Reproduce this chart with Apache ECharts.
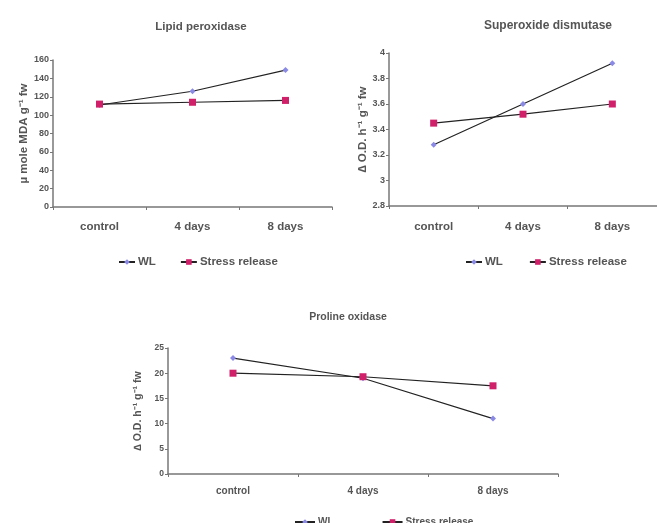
<!DOCTYPE html>
<html><head><meta charset="utf-8">
<script src="https://cdn.jsdelivr.net/npm/echarts@6/dist/echarts.min.js"></script>
<style>html,body{margin:0;padding:0;background:#fff}#c{width:657px;height:523px}</style>
</head><body><div id="c"></div>
<script>
const categories = ['control', '4 days', '8 days'];
const titles = ['Lipid peroxidase', 'Superoxide dismutase', 'Proline oxidase'];
const yNames = ['\u00b5 mole MDA g\u207b\u00b9 fw', '\u2206 O.D. h\u207b\u00b9 g\u207b\u00b9 fw', '\u2206 O.D. h\u207b\u00b9 g\u207b\u00b9 fw'];
const seriesNames = ['WL', 'Stress release'];
const lipidWL = [111, 126, 149];
const lipidStress = [112, 114, 116];
const sodWL = [3.28, 3.6, 3.92];
const sodStress = [3.45, 3.52, 3.6];
const proWL = [23, 19, 11];
const proStress = [20, 19.3, 17.5];
const yMin = [0, 2.8, 0];
const yMax = [160, 4, 25];
const yInterval = [20, 0.2, 5];

const font = 'Liberation Sans, Arial, sans-serif';
const txt = '#555';
const axisCol = '#777';
const grids = [
  {left: 53, top: 60, width: 279, height: 147},
  {left: 389, top: 53, width: 282, height: 153},
  {left: 168, top: 348, width: 390, height: 126}
];
const yNameGap = [22, 20, 24];
const yNameFs = [11.5, 11.5, 10.5];
const labelFs = [11.5, 11.5, 10];
const labelMargin = [14, 15, 12];
const tickFs = [9, 9, 8.5];

const chart = echarts.init(document.getElementById('c'));
const xAxis = grids.map((g, i) => ({
  type: 'category', gridIndex: i, data: categories, boundaryGap: true,
  axisLine: {lineStyle: {color: axisCol, width: 1.5}},
  axisTick: {show: true, interval: 0, length: 3, lineStyle: {color: axisCol}},
  axisLabel: {color: txt, fontFamily: font, fontWeight: 'bold', fontSize: labelFs[i], margin: labelMargin[i]}
}));
const yAxis = grids.map((g, i) => ({
  type: 'value', gridIndex: i, min: yMin[i], max: yMax[i], interval: yInterval[i],
  name: yNames[i], nameLocation: 'middle', nameGap: yNameGap[i], nameRotate: 90,
  nameTextStyle: {color: txt, fontFamily: font, fontWeight: 'bold', fontSize: yNameFs[i]},
  splitLine: {show: false},
  axisLine: {show: true, lineStyle: {color: axisCol, width: 1.5}},
  axisTick: {show: true, length: 3, lineStyle: {color: axisCol}},
  axisLabel: {color: txt, fontFamily: font, fontWeight: 'bold', fontSize: tickFs[i], margin: 4,
    formatter: v => String(Math.round(v * 10) / 10)}
}));
const data = [[lipidWL, lipidStress], [sodWL, sodStress], [proWL, proStress]];
const series = [];
data.forEach((pair, i) => {
  series.push({
    name: seriesNames[0], type: 'line', xAxisIndex: i, yAxisIndex: i, data: pair[0],
    symbol: 'diamond', symbolSize: 6, lineStyle: {color: '#222', width: 1.2},
    itemStyle: {color: '#8a8ae6'}
  });
  series.push({
    name: seriesNames[1], type: 'line', xAxisIndex: i, yAxisIndex: i, data: pair[1],
    symbol: 'rect', symbolSize: 7, lineStyle: {color: '#222', width: 1.2},
    itemStyle: {color: '#d0206a'}
  });
});
const titleOpts = [
  {text: titles[0], left: 196, top: 16, fs: 11.5},
  {text: titles[1], left: 543, top: 15, fs: 12},
  {text: titles[2], left: 343, top: 307, fs: 10.5}
].map(t => ({text: t.text, left: t.left, top: t.top, textAlign: 'center',
  textStyle: {color: txt, fontFamily: font, fontWeight: 'bold', fontSize: t.fs}}));
const legendPos = [
  {left: 113, top: 251, w: 16, gap: 24, fs: 11.5},
  {left: 460, top: 251, w: 16, gap: 26, fs: 11.5},
  {left: 289, top: 512, w: 20, gap: 48, fs: 10}
];
const legend = legendPos.map(p => ({
  data: seriesNames, left: p.left, top: p.top, itemWidth: p.w, itemHeight: 7, itemGap: p.gap,
  textStyle: {color: txt, fontFamily: font, fontWeight: 'bold', fontSize: p.fs, padding: [0, 0, 0, -2]}
}));
chart.setOption({
  animation: false,
  backgroundColor: '#fff',
  title: titleOpts,
  legend: legend,
  grid: grids,
  xAxis: xAxis,
  yAxis: yAxis,
  series: series
});
</script></body></html>
